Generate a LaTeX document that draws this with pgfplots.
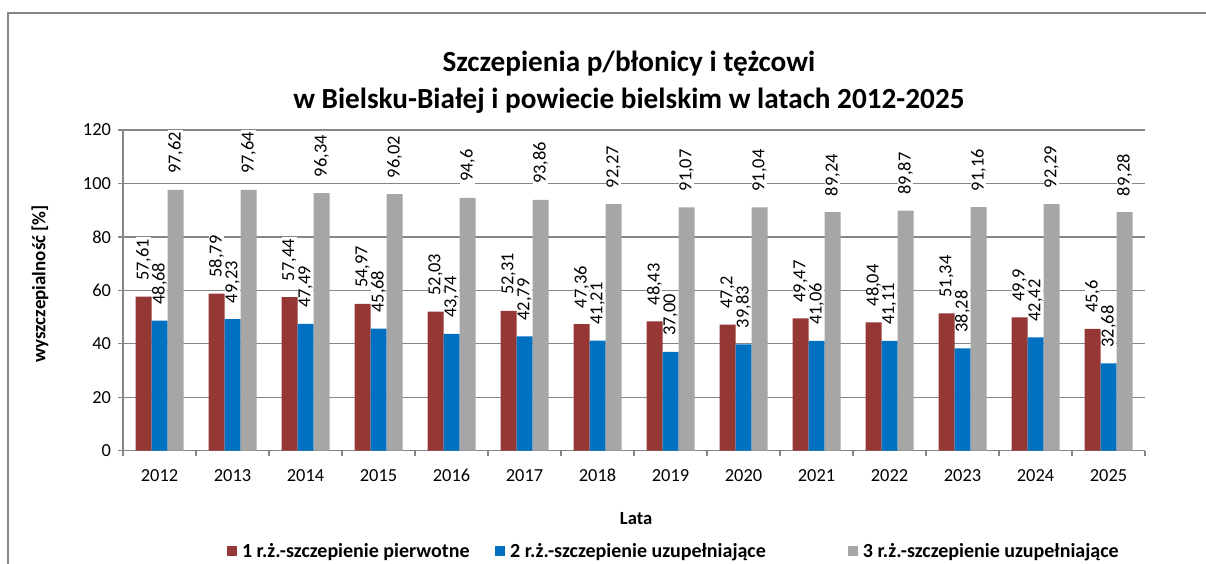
\documentclass[border=0pt]{standalone}
\usepackage{fontspec}
\setmainfont{Carlito}
\usepackage{pgfplots}
\pgfplotsset{compat=1.18}
\usepackage{pgfplotstable}
\definecolor{cred}{HTML}{953735}
\definecolor{cblue}{HTML}{0070C0}
\definecolor{cgray}{HTML}{A6A6A6}
\definecolor{axgray}{HTML}{868686}

\pgfplotstableread{
x y lab
0 57.61 57,61
1 58.79 58,79
2 57.44 57,44
3 54.97 54,97
4 52.03 52,03
5 52.31 52,31
6 47.36 47,36
7 48.43 48,43
8 47.2 47,2
9 49.47 49,47
10 48.04 48,04
11 51.34 51,34
12 49.9 49,9
13 45.6 45,6
}\tred
\pgfplotstableread{
x y lab
0 48.68 48,68
1 49.23 49,23
2 47.49 47,49
3 45.68 45,68
4 43.74 43,74
5 42.79 42,79
6 41.21 41,21
7 37.00 37,00
8 39.83 39,83
9 41.06 41,06
10 41.11 41,11
11 38.28 38,28
12 42.42 42,42
13 32.68 32,68
}\tblue
\pgfplotstableread{
x y lab
0 97.62 97,62
1 97.64 97,64
2 96.34 96,34
3 96.02 96,02
4 94.6 94,6
5 93.86 93,86
6 92.27 92,27
7 91.07 91,07
8 91.04 91,04
9 89.24 89,24
10 89.87 89,87
11 91.16 91,16
12 92.29 92,29
13 89.28 89,28
}\tgray

\begin{document}
\begin{tikzpicture}
\useasboundingbox (0,0) rectangle (603pt,281.5pt);
\draw[axgray, line width=0.9pt] (4pt,275pt) rectangle (620pt,-10pt);
\begin{axis}[
  at={(61.5pt,56.15pt)}, anchor=south west,
  scale only axis, width=511pt, height=160.35pt,
  clip=false,
  ybar=0pt, bar width=8pt,
  xmin=-0.5, xmax=13.5, ymin=0, ymax=120,
  ytick={0,20,...,120},
  xtick={0,...,13},
  xticklabels={2012,2013,2014,2015,2016,2017,2018,2019,2020,2021,2022,2023,2024,2025},
  minor xtick={-0.5,0.5,...,13.5},
  tick align=outside,
  major tick length=2.5pt, minor tick length=2.5pt,
  major x tick style={draw=none},
  minor x tick style={axgray, line width=0.6pt},
  major y tick style={axgray, line width=0.6pt},
  axis x line*=bottom, axis y line*=left,
  axis line style={axgray, line width=0.6pt, -},
  ymajorgrids, grid style={axgray, line width=0.6pt},
  /pgf/number format/assume math mode=true,
  tick label style={font=\fontsize{9.2}{11}\selectfont, black},
  xticklabel style={anchor=base, yshift=-13pt},
  xlabel={Lata}, ylabel={wyszczepialność [\%]},
  every axis x label/.style={font=\bfseries\fontsize{9.3}{11}\selectfont, at={(axis description cs:0.502,-0.213)}, anchor=center},
  every axis y label/.style={font=\bfseries\fontsize{9.5}{11}\selectfont, at={(axis description cs:-0.0812,0.52)}, anchor=center, rotate=90},
  title={Szczepienia p/błonicy i tężcowi\\w Bielsku-Białej i powiecie bielskim w latach 2012-2025},
  title style={font=\bfseries\fontsize{14.6}{18.5}\selectfont, align=center, at={(axis description cs:0.495,1.113)}, anchor=center},
  nodes near coords={\pgfplotspointmeta},
  point meta=explicit symbolic,
  every node near coord/.append style={rotate=90, anchor=west, font=\fontsize{9.2}{11}\selectfont, black, fill=white, inner xsep=1pt, inner ysep=0pt, outer xsep=7pt},
  legend columns=3,
  legend style={draw=none, fill=none, inner sep=0pt, outer sep=0pt,
    at={(axis description cs:0.1018,-0.3143)}, anchor=west,
    font=\bfseries\fontsize{10}{11}\selectfont,
    nodes={inner sep=0pt},
    /tikz/every odd column/.append style={column sep=2.5pt},
    /tikz/column 2/.style={column sep=12.75pt},
    /tikz/column 4/.style={column sep=41pt}},
  legend image code/.code={\fill[#1] (0pt,-2.5pt) rectangle (5pt,2.5pt);},
]
\addplot[fill=cred, draw=none] table[x=x, y=y, meta=lab] {\tred};
\addplot[fill=cblue, draw=none] table[x=x, y=y, meta=lab] {\tblue};
\addplot[fill=cgray, draw=none] table[x=x, y=y, meta=lab] {\tgray};
\legend{1 r.ż.-szczepienie pierwotne, 2 r.ż.-szczepienie uzupełniające, 3 r.ż.-szczepienie uzupełniające}
\end{axis}
\end{tikzpicture}
\end{document}
